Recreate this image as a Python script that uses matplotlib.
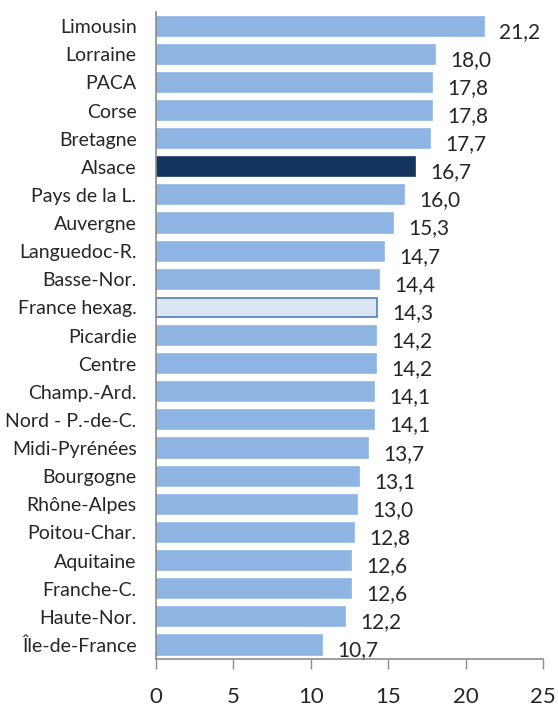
import matplotlib
matplotlib.use('Agg')
import matplotlib.pyplot as plt

plt.rcParams['font.family'] = ['Lato', 'DejaVu Sans']

regions = ['Limousin', 'Lorraine', 'PACA', 'Corse', 'Bretagne', 'Alsace',
           'Pays de la L.', 'Auvergne', 'Languedoc-R.', 'Basse-Nor.',
           'France hexag.', 'Picardie', 'Centre', 'Champ.-Ard.',
           'Nord - P.-de-C.', 'Midi-Pyrénées', 'Bourgogne', 'Rhône-Alpes',
           'Poitou-Char.', 'Aquitaine', 'Franche-C.', 'Haute-Nor.',
           'Île-de-France']
values = [21.2, 18.0, 17.8, 17.8, 17.7, 16.7, 16.0, 15.3, 14.7, 14.4, 14.3,
          14.2, 14.2, 14.1, 14.1, 13.7, 13.1, 13.0, 12.8, 12.6, 12.6, 12.2, 10.7]
ticks = [0, 5, 10, 15, 20, 25]

BLUE = '#8EB4E3'
DARK = '#14365E'
LIGHT = '#DCE6F2'
EDGE = '#4F81BD'

fig = plt.figure(figsize=(5.58, 7.1), dpi=100)
ax = fig.add_axes([0.2796, 0.0718, 0.6935, 0.9112])

y = list(range(len(regions)))
colors = []
edges = []
for r in regions:
    if r == 'Alsace':
        colors.append(DARK); edges.append(DARK)
    elif r == 'France hexag.':
        colors.append(LIGHT); edges.append(EDGE)
    else:
        colors.append(BLUE); edges.append(BLUE)

bars = ax.barh(y, values, height=0.68, color=colors, edgecolor=edges, linewidth=1.2)

for yi, v in zip(y, values):
    ax.annotate(f'{v:.1f}'.replace('.', ','), xy=(v, yi), xytext=(11, -4),
                textcoords='offset points', ha='left', va='center',
                fontsize=15, color='#262626')

ax.set_xlim(0, 25)
ax.set_ylim(len(regions) - 0.5, -0.5)
ax.set_xticks(ticks)
ax.set_xticklabels([str(t) for t in ticks], fontsize=16, color='#262626')
ax.set_yticks(y)
ax.set_yticklabels(regions, fontsize=14, color='#262626')
ax.tick_params(axis='x', direction='out', length=7, width=1, color='#8C8C8C', pad=13)
ax.tick_params(axis='y', length=0, pad=14)

for s in ['top', 'right']:
    ax.spines[s].set_visible(False)
for s in ['left', 'bottom']:
    ax.spines[s].set_color('#8C8C8C')
    ax.spines[s].set_linewidth(1.2)

fig.savefig('out.png', dpi=100)
